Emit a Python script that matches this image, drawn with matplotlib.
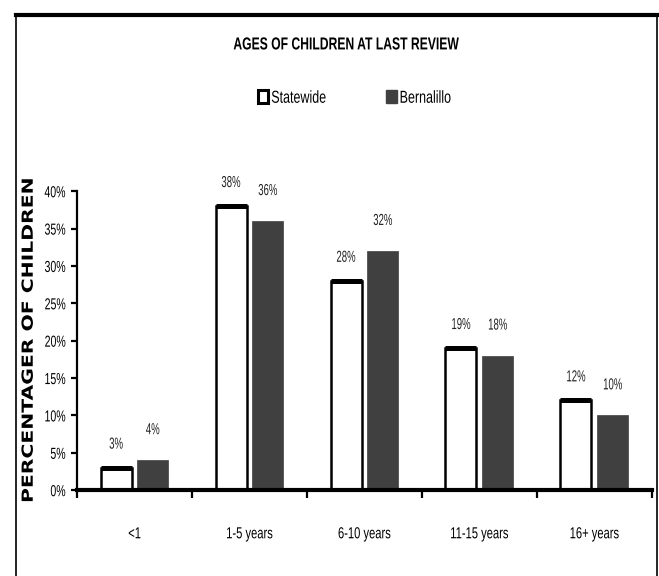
import matplotlib
matplotlib.use('Agg')
import matplotlib.pyplot as plt
from matplotlib import patheffects
from matplotlib.transforms import Affine2D
from matplotlib.lines import Line2D
from matplotlib.patches import Patch
import numpy as np

plt.rcParams['font.family'] = ['Liberation Sans', 'DejaVu Sans']

categories = ['<1', '1-5 years', '6-10 years', '11-15 years', '16+ years']
statewide = [3, 38, 28, 19, 12]
bernalillo = [4, 36, 32, 18, 10]
yticks = [0, 5, 10, 15, 20, 25, 30, 35, 40]

dark = '#404040'
w = 0.27
off = 0.16


class Squeeze(patheffects.AbstractPathEffect):
    # squeeze (or stretch) the glyphs to mimic a narrow font
    def __init__(self, s=0.75, anchor='center', vertical=False):
        super().__init__()
        self.s, self.anchor, self.vertical = s, anchor, vertical

    def draw_path(self, renderer, gc, tpath, affine, rgbFace=None):
        if len(tpath.vertices) == 0:
            return
        ext = affine.transform_path(tpath).get_extents()
        if self.vertical:
            c = (ext.y0 + ext.y1) / 2
            extra = Affine2D().translate(0, -c).scale(1, self.s).translate(0, c)
        else:
            c = {'left': ext.x0, 'right': ext.x1}.get(self.anchor, (ext.x0 + ext.x1) / 2)
            extra = Affine2D().translate(-c, 0).scale(self.s, 1).translate(c, 0)
        renderer.draw_path(gc, tpath, affine + extra, rgbFace)


fig = plt.figure(figsize=(6.59, 5.76), dpi=100)
ax = fig.add_axes([0.117, 0.149, 0.872, 0.519])

x = np.arange(len(categories))
ax.bar(x - off, statewide, w, color='white', edgecolor='black', linewidth=1.8, zorder=2)
ax.bar(x + off, bernalillo, w, color=dark, edgecolor=dark, linewidth=0.5, zorder=2)
# heavier top edge on the statewide bars
for xi, v in zip(x, statewide):
    ax.plot([xi - off - w / 2, xi - off + w / 2], [v, v], color='black', lw=3.6,
            solid_capstyle='butt', zorder=3)

for xi, v in zip(x, statewide):
    t = ax.annotate(f'{v}%', (xi - off, v), xytext=(0, 17), textcoords='offset points',
                    ha='center', va='center', fontsize=11.5, color='#222222')
    t.set_path_effects([Squeeze(0.6)])
for xi, v in zip(x, bernalillo):
    t = ax.annotate(f'{v}%', (xi + off, v), xytext=(0, 22), textcoords='offset points',
                    ha='center', va='center', fontsize=11.5, color='#222222')
    t.set_path_effects([Squeeze(0.6)])

ax.set_xlim(-0.5, len(categories) - 0.5)
ax.set_ylim(0, 40)
ax.set_yticks(yticks)
ax.set_yticklabels([f'{t}%' for t in yticks])
ax.set_xticks(np.arange(len(categories) + 1) - 0.5)
ax.set_xticklabels([])
ax.set_xticks(x, minor=True)
ax.set_xticklabels(categories, minor=True)
ax.tick_params(axis='x', which='major', direction='out', length=6, width=1.6)
ax.tick_params(axis='x', which='minor', length=0, pad=26, labelsize=11.5)
ax.tick_params(axis='y', direction='out', length=4, width=1.6, pad=4, labelsize=11.5)
for lbl in ax.get_yticklabels():
    lbl.set_path_effects([Squeeze(0.66, 'right')])
for lbl in ax.get_xticklabels(minor=True):
    lbl.set_path_effects([Squeeze(0.7)])

for s in ['top', 'right']:
    ax.spines[s].set_visible(False)
ax.spines['bottom'].set_linewidth(3)
ax.spines['left'].set_linewidth(1.6)
ax.spines['bottom'].set_zorder(4)

ax.set_ylabel('PERCENTAGER OF CHILDREN', fontsize=11, fontweight='bold',
              family=['DejaVu Sans'])
ax.yaxis.set_label_coords(-0.072, 0.5)
ax.yaxis.label.set_path_effects([Squeeze(1.33, vertical=True)])

title = fig.text(0.525, 0.922, 'AGES OF CHILDREN AT LAST REVIEW', ha='center', va='center',
                 fontsize=12.5, fontweight='bold')
title.set_path_effects([Squeeze(0.7)])

handles = [Patch(facecolor='white', edgecolor='black', linewidth=2.2),
           Patch(facecolor=dark, edgecolor=dark)]
leg = fig.legend(handles, ['Statewide', 'Bernalillo'], loc='center',
                 bbox_to_anchor=(0.553, 0.83), ncol=2, frameon=False, fontsize=12.5,
                 handlelength=0.6, handleheight=0.8, handletextpad=0.15, columnspacing=2.25)
for t in leg.get_texts():
    t.set_path_effects([Squeeze(0.72, 'left')])

# outer frame (left, top, right)
fig.add_artist(Line2D([16 / 659, 16 / 659], [0, 1 - 15 / 576], color='black', lw=1.2))
fig.add_artist(Line2D([16 / 659, 1], [1 - 15 / 576, 1 - 15 / 576], color='black', lw=3))
fig.add_artist(Line2D([657 / 659, 657 / 659], [0, 1 - 15 / 576], color='black', lw=1.2))

fig.savefig('out.png', dpi=100)
